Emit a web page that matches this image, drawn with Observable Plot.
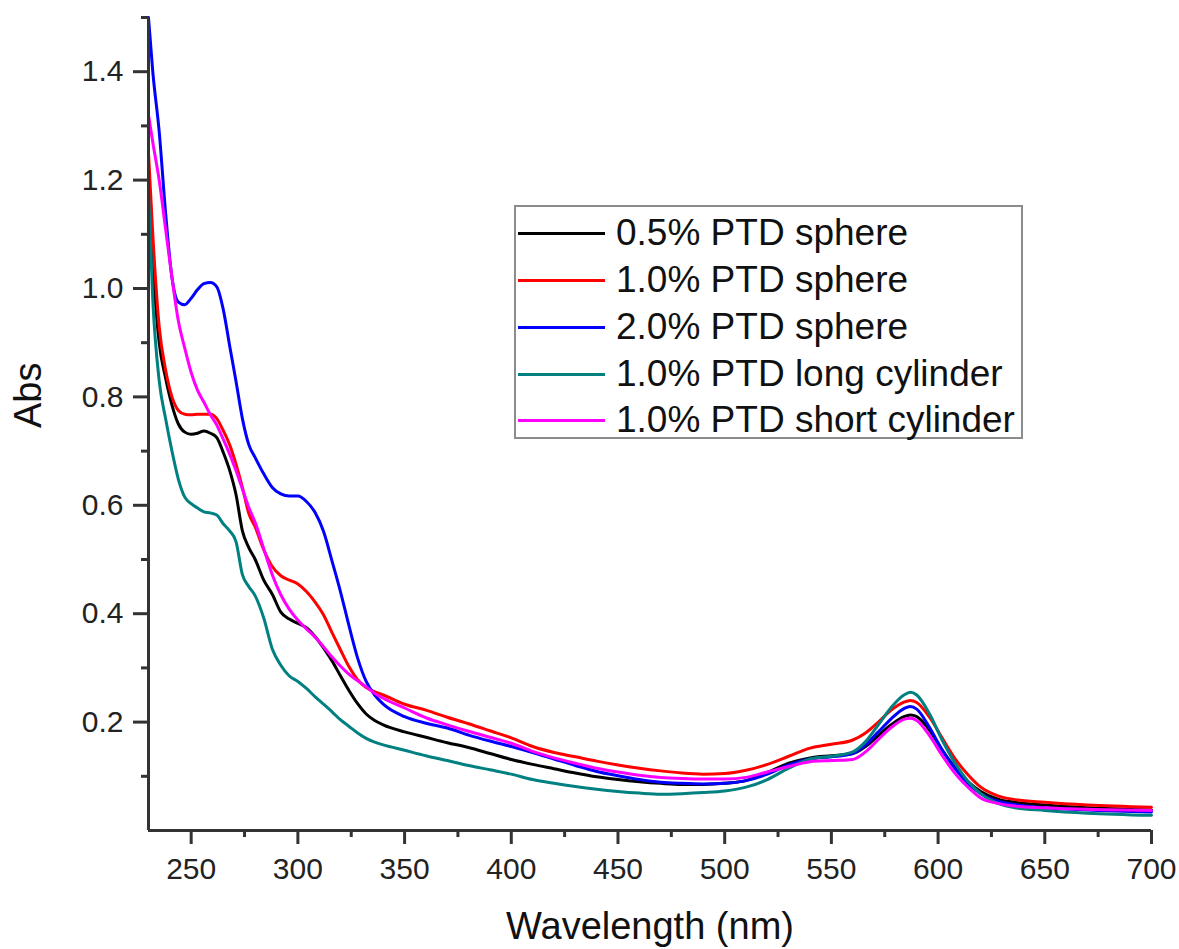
<!DOCTYPE html>
<html>
<head>
<meta charset="utf-8">
<script src="https://cdn.jsdelivr.net/npm/d3@7"></script>
<script src="https://cdn.jsdelivr.net/npm/@observablehq/plot@0.6"></script>
<style>
  html, body { margin: 0; padding: 0; background: #fff; }
  #wrap { position: relative; width: 1179px; height: 949px; font-family: "Liberation Sans", Arial, sans-serif; }
  #legend { position: absolute; left: 514px; top: 205px; width: 509px; height: 234px; border: 2px solid #8c8c8c; box-sizing: border-box; background: #fff; }
  .row { position: absolute; left: 0; height: 40px; display: flex; align-items: center; }
  .sw { width: 87px; height: 3px; margin-left: 2px; margin-right: 11px; }
  .lab { font-size: 37px; color: #111; white-space: nowrap; line-height: 40px; }
</style>
</head>
<body>
<div id="wrap"></div>
<script>
const wavelengths = [230,232,235,238,241,244,247,250,253,256,259,262,265,268,271,274,277,280,284,288,292,296,300,304,308,312,316,320,324,328,332,336,340,350,360,370,380,390,400,410,420,430,440,450,460,470,480,490,500,510,520,530,540,550,560,566,572,578,584,587,590,596,602,608,614,620,628,636,650,670,700];

const seriesNames = ["0.5% PTD sphere", "1.0% PTD sphere", "2.0% PTD sphere", "1.0% PTD long cylinder", "1.0% PTD short cylinder"];
const seriesColors = ["#000000", "#ff0000", "#0000ff", "#008080", "#ff00ff"];

const abs05sphere = [1.22,1.05,0.90,0.835,0.785,0.750,0.735,0.731,0.733,0.737,0.733,0.725,0.698,0.665,0.620,0.553,0.522,0.500,0.462,0.436,0.403,0.390,0.382,0.374,0.358,0.337,0.313,0.285,0.258,0.234,0.215,0.203,0.195,0.182,0.172,0.162,0.153,0.142,0.131,0.122,0.114,0.106,0.099,0.094,0.090,0.087,0.085,0.085,0.087,0.092,0.107,0.124,0.134,0.138,0.142,0.155,0.175,0.195,0.210,0.213,0.210,0.185,0.148,0.116,0.090,0.072,0.058,0.052,0.047,0.042,0.038];

const abs10sphere = [1.25,1.10,0.93,0.85,0.80,0.775,0.768,0.767,0.768,0.768,0.768,0.760,0.738,0.712,0.676,0.633,0.585,0.560,0.518,0.487,0.470,0.462,0.455,0.441,0.422,0.398,0.365,0.333,0.302,0.278,0.264,0.256,0.250,0.233,0.222,0.209,0.197,0.184,0.171,0.155,0.144,0.136,0.128,0.121,0.115,0.110,0.106,0.104,0.105,0.111,0.122,0.137,0.152,0.159,0.167,0.180,0.200,0.222,0.237,0.240,0.236,0.209,0.170,0.132,0.103,0.080,0.064,0.057,0.052,0.047,0.043];

const abs20sphere = [1.50,1.40,1.29,1.14,1.02,0.975,0.970,0.982,0.998,1.009,1.011,1.003,0.962,0.895,0.829,0.760,0.712,0.688,0.658,0.633,0.621,0.617,0.617,0.607,0.587,0.552,0.497,0.440,0.377,0.318,0.275,0.250,0.233,0.210,0.198,0.189,0.176,0.165,0.155,0.144,0.132,0.120,0.109,0.101,0.094,0.089,0.087,0.086,0.087,0.092,0.104,0.121,0.132,0.136,0.142,0.158,0.182,0.206,0.225,0.229,0.224,0.190,0.148,0.114,0.087,0.068,0.054,0.048,0.042,0.038,0.034];

const abs10long = [1.18,0.98,0.83,0.76,0.70,0.648,0.615,0.603,0.595,0.588,0.586,0.582,0.566,0.553,0.533,0.472,0.450,0.433,0.392,0.335,0.305,0.285,0.275,0.262,0.247,0.233,0.219,0.204,0.192,0.180,0.170,0.163,0.158,0.148,0.138,0.129,0.120,0.112,0.104,0.094,0.087,0.081,0.076,0.072,0.069,0.067,0.068,0.070,0.073,0.080,0.094,0.115,0.132,0.137,0.145,0.164,0.195,0.227,0.250,0.255,0.250,0.215,0.166,0.124,0.091,0.068,0.050,0.042,0.037,0.032,0.028];

const abs10short = [1.32,1.27,1.20,1.11,1.02,0.94,0.89,0.845,0.812,0.790,0.767,0.748,0.722,0.695,0.664,0.630,0.596,0.568,0.520,0.472,0.435,0.408,0.388,0.372,0.357,0.339,0.320,0.303,0.288,0.276,0.265,0.253,0.244,0.226,0.208,0.195,0.183,0.172,0.161,0.146,0.134,0.124,0.115,0.108,0.102,0.098,0.096,0.095,0.095,0.098,0.108,0.118,0.127,0.129,0.131,0.145,0.168,0.190,0.205,0.207,0.203,0.175,0.138,0.105,0.080,0.060,0.050,0.045,0.042,0.039,0.037];

const xMajorTicks = [250,300,350,400,450,500,550,600,650,700];
const xMinorTicks = [275,325,375,425,475,525,575,625,675];
const yMajorTicks = [0.2,0.4,0.6,0.8,1.0,1.2,1.4];
const yMinorTicks = [0.1,0.3,0.5,0.7,0.9,1.1,1.3,1.5];

const seriesValues = [abs05sphere, abs10sphere, abs20sphere, abs10long, abs10short];
const table = [];
seriesNames.forEach((name, i) => {
  wavelengths.forEach((w, j) => table.push({series: name, wl: w, v: seriesValues[i][j]}));
});

const axisColor = "#333";
const labelColor = "#222";
const font = "Liberation Sans, Arial, sans-serif";

const chart = Plot.plot({
  width: 1179,
  height: 949,
  marginLeft: 148,
  marginRight: 28,
  marginTop: 17,
  marginBottom: 119,
  style: {fontFamily: font, background: "#fff", overflow: "visible"},
  x: {domain: [230, 700], label: null},
  y: {domain: [0, 1.5], label: null},
  color: {domain: seriesNames, range: seriesColors},
  marks: [
    Plot.line(table, {x: "wl", y: "v", z: "series", stroke: "series", strokeWidth: 3, curve: "monotone-x"}),
    Plot.axisX({ticks: xMajorTicks, tickSize: 14, tickPadding: 13, tickFormat: d3.format("d"), fontSize: 30, fill: labelColor, stroke: axisColor, strokeWidth: 3, label: null}),
    Plot.axisX({ticks: xMinorTicks, tickSize: 7, tickFormat: () => "", stroke: axisColor, strokeWidth: 3, label: null}),
    Plot.axisY({ticks: yMajorTicks, tickSize: 15, tickPadding: 10, tickFormat: d3.format(".1f"), fontSize: 30, fill: labelColor, stroke: axisColor, strokeWidth: 3, label: null}),
    Plot.axisY({ticks: yMinorTicks, tickSize: 7, tickFormat: () => "", stroke: axisColor, strokeWidth: 3, label: null}),
    Plot.ruleX([230], {stroke: axisColor, strokeWidth: 3}),
    Plot.ruleY([0], {stroke: axisColor, strokeWidth: 3}),
    Plot.text(["Wavelength (nm)"], {frameAnchor: "bottom", dy: 96, lineAnchor: "middle", fontSize: 38, fill: "#111"}),
    Plot.text(["Abs"], {frameAnchor: "left", dx: -120, dy: 4, rotate: -90, lineAnchor: "middle", fontSize: 38, fill: "#111"})
  ]
});

const wrap = document.getElementById("wrap");
wrap.appendChild(chart);

const legend = document.createElement("div");
legend.id = "legend";
const rowCenters = [26, 73, 120, 167, 213];
seriesNames.forEach((name, i) => {
  const row = document.createElement("div");
  row.className = "row";
  row.style.top = (rowCenters[i] - 20) + "px";
  const sw = document.createElement("div");
  sw.className = "sw";
  sw.style.background = seriesColors[i];
  const lab = document.createElement("span");
  lab.className = "lab";
  lab.textContent = name;
  row.appendChild(sw);
  row.appendChild(lab);
  legend.appendChild(row);
});
wrap.appendChild(legend);
</script>
</body>
</html>
